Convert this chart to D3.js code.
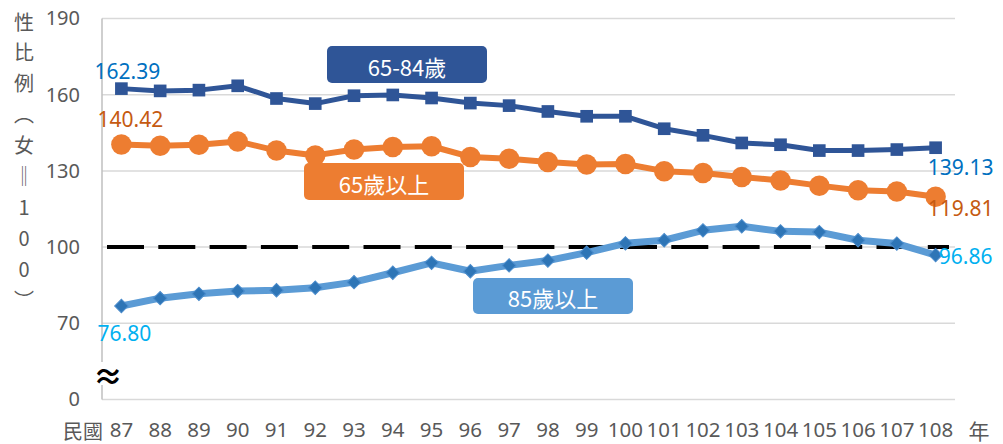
<!DOCTYPE html>
<html>
<head>
<meta charset="utf-8">
<script src="https://d3js.org/d3.v7.min.js"></script>
<style>
  body { margin: 0; background: #fff; }
  text { font-family: "Noto Sans CJK TC", "Noto Sans", sans-serif; }
</style>
</head>
<body>
<div id="chart"></div>
<script>
// ---- data ----
years = ['87','88','89','90','91','92','93','94','95','96','97','98','99','100','101','102','103','104','105','106','107','108']
age6584 = [162.39,161.5,161.8,163.5,158.5,156.5,159.6,159.9,158.7,156.7,155.7,153.4,151.5,151.5,146.6,144.0,141.0,140.3,138.0,138.0,138.4,139.13]
age65up = [140.42,139.9,140.3,141.6,138.0,136.1,138.4,139.4,139.7,135.5,134.8,133.5,132.5,132.7,129.9,129.2,127.6,126.2,124.2,122.4,121.9,119.81]
age85up = [76.80,79.9,81.6,82.7,83.0,84.0,86.2,89.9,93.8,90.5,92.8,94.7,97.8,101.5,102.7,106.6,108.2,106.2,105.9,102.7,101.4,96.86]
seriesNames = ['65-84歲', '65歲以上', '85歲以上']
yTicks = [40, 70, 100, 130, 160, 190]          // 40 sits at the broken-axis "0"
yTickLabels = ['0', '70', '100', '130', '160', '190']
yTitle = ['性','比','例','︵','女','‖','1','0','0','︶']
refValue = 100

width = 1003
height = 444

svg = d3.select('#chart')
  .append('svg')
  .attr('width', width)
  .attr('height', height)

// scales
x = d3.scaleBand()
  .domain(years)
  .range([102, 955])
cx = d => x(d) + x.bandwidth() / 2

y = d3.scaleLinear()
  .domain([40, 190])
  .range([399.5, 18.5])

// gridlines
svg.append('g')
  .selectAll('line')
  .data(yTicks.slice(1))
  .join('line')
  .attr('x1', 102).attr('x2', 955)
  .attr('y1', d => y(d)).attr('y2', d => y(d))
  .attr('stroke', '#d9d9d9')
  .attr('stroke-width', 1.5)

// axes
yAxis = d3.axisLeft(y)
  .tickValues(yTicks)
  .tickSize(0)
  .tickPadding(0)
  .tickFormat((d, i) => yTickLabels[i])

gy = svg.append('g')
  .attr('transform', 'translate(80,0)')
  .call(yAxis)
gy.select('.domain').remove()
gy.selectAll('text')
  .attr('font-size', 20)
  .attr('fill', '#595959')
  .style('font-family', '"Noto Sans", sans-serif')

xAxis = d3.axisBottom(x)
  .tickSize(0)
  .tickPadding(0)

gx = svg.append('g')
  .attr('transform', 'translate(0,422)')
  .call(xAxis)
gx.select('.domain').remove()
gx.selectAll('text')
  .attr('font-size', 20.5)
  .attr('fill', '#595959')
  .style('font-family', '"Noto Sans", sans-serif')

svg.append('line')
  .attr('x1', 102).attr('x2', 955)
  .attr('y1', y(40)).attr('y2', y(40))
  .attr('stroke', '#d9d9d9').attr('stroke-width', 1.5)
svg.append('line')
  .attr('x1', 102).attr('x2', 102)
  .attr('y1', y(190)).attr('y2', y(40))
  .attr('stroke', '#bfbfbf').attr('stroke-width', 1.5)

// axis break mark
svg.append('rect')
  .attr('x', 95).attr('y', 362).attr('width', 26).attr('height', 23)
  .attr('fill', '#fff')
svg.append('text')
  .attr('x', 108).attr('y', 379)
  .attr('text-anchor', 'middle')
  .attr('dominant-baseline', 'middle')
  .attr('font-size', 30)
  .attr('font-weight', 'bold')
  .attr('fill', '#000')
  .text('≈')

// axis titles
svg.append('g')
  .selectAll('text')
  .data(yTitle)
  .join('text')
  .attr('x', 24)
  .attr('y', (d, i) => 21 + i * 30.9)
  .attr('text-anchor', 'middle')
  .attr('dominant-baseline', 'central')
  .attr('font-size', 20)
  .attr('fill', '#595959')
  .text(d => d)

svg.append('text')
  .attr('x', 63).attr('y', 430)
  .attr('dominant-baseline', 'central')
  .attr('font-size', 20).attr('fill', '#595959')
  .text('民國')
svg.append('text')
  .attr('x', 979).attr('y', 430)
  .attr('text-anchor', 'middle')
  .attr('dominant-baseline', 'central')
  .attr('font-size', 21).attr('fill', '#595959')
  .text('年')

// reference line at 100
svg.append('line')
  .attr('x1', 107).attr('x2', 949)
  .attr('y1', y(refValue)).attr('y2', y(refValue))
  .attr('stroke', '#000')
  .attr('stroke-width', 4)
  .attr('stroke-dasharray', '37,14.3')

// series
series = [
  { name: seriesNames[0], values: age6584, line: '#2F5597', mark: '#2F5597', width: 5,
    symbol: d3.symbolSquare, size: 160, rot: 0, labelColor: '#0070C0',
    box: { x: 327, y: 46, w: 160, h: 37 },
    first: [6, -10], last: [25, 27] },
  { name: seriesNames[1], values: age65up, line: '#ED7D31', mark: '#ED7D31', width: 6,
    symbol: d3.symbolCircle, size: 330, rot: 0, labelColor: '#C55A11',
    box: { x: 304, y: 163, w: 160, h: 37 },
    first: [9, -17], last: [25, 19.5] },
  { name: seriesNames[2], values: age85up, line: '#5B9BD5', mark: '#2E75B6', width: 7,
    symbol: d3.symbolSquare, size: 90, rot: 45, labelColor: '#00B0F0',
    box: { x: 473, y: 278, w: 160, h: 36 },
    first: [3, 35], last: [30, 8.5] }
]

line = d3.line()
  .x((d, i) => cx(years[i]))
  .y(d => y(d))

series.slice().reverse().forEach(s => {
  g = svg.append('g')
  g.append('path')
    .attr('d', line(s.values))
    .attr('fill', 'none')
    .attr('stroke', s.line)
    .attr('stroke-width', s.width)
    .attr('stroke-linejoin', 'round')
  g.selectAll('path.mk')
    .data(s.values)
    .join('path')
    .attr('class', 'mk')
    .attr('d', d3.symbol(s.symbol, s.size))
    .attr('transform', (d, i) => `translate(${cx(years[i])},${y(d)}) rotate(${s.rot})`)
    .attr('fill', s.mark)
    .attr('stroke', s.rot ? '#4A8BCB' : 'none')
    .attr('stroke-width', 1)
})

// end-value labels
series.forEach(s => {
  n = s.values.length - 1
  ;[[0, s.first], [n, s.last]].forEach(([i, off]) => {
    svg.append('text')
      .attr('x', cx(years[i]) + off[0])
      .attr('y', y(s.values[i]) + off[1])
      .attr('text-anchor', 'middle')
      .attr('font-size', 21)
      .attr('fill', s.labelColor)
      .style('font-family', '"Noto Sans", sans-serif')
      .text(s.values[i].toFixed(2))
  })
})

// series name boxes
series.forEach(s => {
  svg.append('rect')
    .attr('x', s.box.x).attr('y', s.box.y)
    .attr('width', s.box.w).attr('height', s.box.h)
    .attr('rx', 5)
    .attr('fill', s.line)
  svg.append('text')
    .attr('x', s.box.x + s.box.w / 2)
    .attr('y', s.box.y + s.box.h / 2 + 1)
    .attr('text-anchor', 'middle')
    .attr('dominant-baseline', 'central')
    .attr('font-size', 22)
    .attr('fill', '#fff')
    .text(s.name)
})
</script>
</body>
</html>
